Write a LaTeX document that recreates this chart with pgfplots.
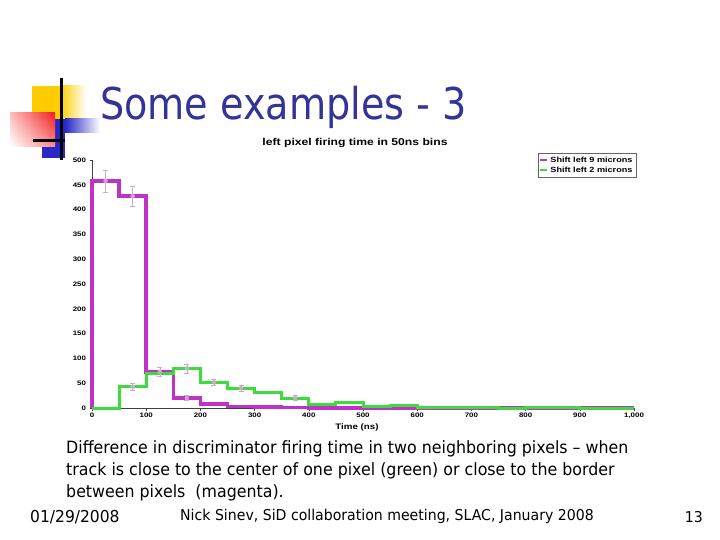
\documentclass[border=0pt]{standalone}
\usepackage{fontspec}
\usepackage{pgfplots}
\pgfplotsset{compat=1.18}
\usetikzlibrary{shadings}
\setmainfont{Liberation Sans}
\newfontfamily\tahoma[FakeStretch=0.87]{DejaVu Sans}
\newfontfamily\tahomab[FakeStretch=0.935]{DejaVu Sans}
\newfontfamily\tahomaf[FakeStretch=0.943]{DejaVu Sans}
\newfontfamily\chartfont[FakeStretch=1.22]{Liberation Sans}
\definecolor{titleblue}{RGB}{51,51,153}
\definecolor{mag}{RGB}{190,50,200}
\definecolor{grn}{RGB}{60,220,60}
\definecolor{errc}{RGB}{205,170,200}
\definecolor{dyellow}{RGB}{255,204,0}
\definecolor{dred}{RGB}{240,30,30}
\definecolor{dblue}{RGB}{40,40,200}
\begin{document}
\begin{tikzpicture}[x=1bp,y=1bp]
\fill[white] (0,0) rectangle (720,-540);
% decorative squares
\fill[dyellow] (32,-86) rectangle (60,-120);
\shade[left color=dyellow,right color=white] (60,-86) rectangle (86,-120);
\fill[dblue] (42,-119) rectangle (65,-158);
\shade[left color=dblue,right color=white] (65,-119) rectangle (100,-133);
\shade[upper right=dred, upper left=red!25!white, lower left=white, lower right=red!45!white] (10,-113) rectangle (55,-147);
\draw[line width=3bp] (61,-78)--(61,-160);
\draw[line width=3bp] (33,-141)--(65,-141);
% title
\node[anchor=base west, text=titleblue, font=\tahoma\fontsize{44}{44}\selectfont, inner sep=0] at (100,-120) {Some examples - 3};
\begin{axis}[
  at={(92bp,-408bp)}, anchor=south west,
  scale only axis, width=542bp, height=248bp,
  xmin=0, xmax=1000, ymin=0, ymax=500, clip=false,
  axis lines=left, axis line style={-, black!75, thin},
  xtick={0,100,...,1000}, ytick={0,50,...,500},
  tick align=outside, major tick length=2.5bp,
  tick style={black!75, thin},
  /pgf/number format/assume math mode=true,
  /pgf/number format/1000 sep={,},
  ticklabel style={font=\chartfont\bfseries\fontsize{6.5}{7}\selectfont},
  xticklabel style={yshift=1bp},
  legend style={at={(axis cs:1004,514)}, anchor=north east, draw=black!60,
    font=\chartfont\bfseries\fontsize{7.5}{8.5}\selectfont, inner sep=1.5bp, row sep=-1bp,
    cells={anchor=west}},
  legend image code/.code={\draw[#1, line width=2bp] (0,0)--(7bp,0);},
]
\addplot[mag, line width=3.5bp, const plot mark left, mark=none] coordinates {
(0,0)(0,458)(50,427)(100,73)(150,20)(200,8)(250,3)(300,2)(350,1)(400,0)(1000,0)};
\addlegendentry{Shift left 9 microns}
\addplot[grn, line width=3bp, const plot mark left, mark=none] coordinates {
(0,0)(50,43)(100,70)(150,80)(200,52)(250,40)(300,32)(350,20)(400,8)(450,12)(500,3)(550,6)(600,2)(700,1)(750,0)(800,1)(900,0)(1000,0)};
\addlegendentry{Shift left 2 microns}
\addplot[errc, forget plot, only marks, mark=none,
  error bars/.cd, y dir=both, y explicit,
  error bar style={errc, thin}, error mark options={rotate=90, errc, mark size=2.5bp}] coordinates {
(25,458) +- (0,22)
(75,427) +- (0,21)
(125,73) +- (0,9)
(175,20) +- (0,5)
(75,43) +- (0,7)
(175,80) +- (0,9)
(225,52) +- (0,7)
(275,40) +- (0,6)
(375,20) +- (0,5)
};
\end{axis}
\node[font=\chartfont\bfseries\fontsize{10}{11}\selectfont] at (355,-143) {left pixel firing time in 50ns bins};
\node[font=\chartfont\bfseries\fontsize{8}{9}\selectfont] at (357,-427) {Time (ns)};
% body text
\begin{scope}[every node/.style={anchor=base west, inner sep=0, font=\tahomab\fontsize{17}{22}\selectfont}]
\node at (66,-453) {Difference in discriminator firing time in two neighboring pixels – when};
\node at (66,-475) {track is close to the center of one pixel (green) or close to the border};
\node at (66,-497) {between pixels\ \ (magenta).};
\end{scope}
\node[anchor=base west, inner sep=0, font=\tahomaf\fontsize{16.5}{17}\selectfont] at (30,-522) {01/29/2008};
\node[anchor=base west, inner sep=0, font=\tahomaf\fontsize{15}{16}\selectfont] at (180,-520) {Nick Sinev, SiD collaboration meeting, SLAC, January 2008};
\node[anchor=base east, inner sep=0, font=\tahomaf\fontsize{15}{16}\selectfont] at (703,-522) {13};
\end{tikzpicture}
\end{document}
